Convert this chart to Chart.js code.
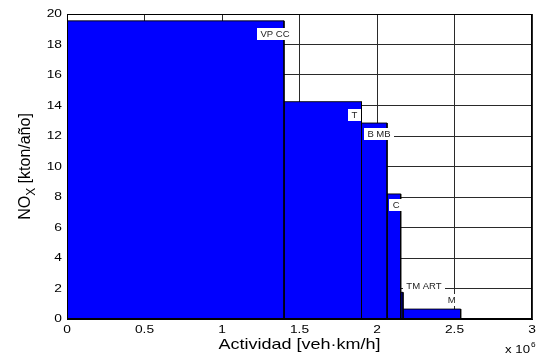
<!DOCTYPE html>
<html>
<head>
<meta charset="utf-8">
<script src="https://cdn.jsdelivr.net/npm/chart.js@4.4.1/dist/chart.umd.min.js"></script>
<style>
  html, body { margin: 0; padding: 0; background: #fff; }
  #wrap { width: 542px; height: 360px; }
</style>
</head>
<body>
<div id="wrap"><canvas id="chart" width="542" height="360"></canvas></div>
<script>
// vehicle categories, activity per category (x10^6 veh·km/h) and NOx (kton/año)
const categories = ['VP CC', 'T', 'B MB', 'C', 'TM ART', 'M'];
const activity = [1.40, 0.50, 0.165, 0.088, 0.015, 0.372];
const emissions = [19.55, 14.25, 12.85, 8.2, 1.75, 0.65];
// where each category tag sits (data units)
const tagX = [1.342, 1.855, 2.013, 2.123, 2.303, 2.482];
const tagY = [18.68, 13.38, 12.13, 7.47, 2.18, 1.26];

const FONT = '"Liberation Sans", Arial, Helvetica, sans-serif';
const STRETCH = 1.25; // the figure is a bit wider than tall

function wideText(ctx, txt, x, y, align, sx){
  ctx.save();
  ctx.translate(x, y);
  ctx.scale(sx, 1);
  ctx.textAlign = align;
  ctx.fillText(txt, 0, 0);
  ctx.restore();
}

// one closed step block per category
let start = 0;
const datasets = categories.map(function(c, i){
  const x0 = start, x1 = start + activity[i];
  start = x1;
  return {
    label: c,
    data: [{x: x0, y: 0}, {x: x0, y: emissions[i]}, {x: x1, y: emissions[i]}, {x: x1, y: 0}],
    fill: 'origin',
    backgroundColor: '#0000ff',
    borderColor: '#000',
    borderWidth: 0.9,
    pointRadius: 0,
    tension: 0
  };
});

const matlabLook = {
  id: 'matlabLook',
  beforeDraw(chart){
    const ctx = chart.ctx;
    ctx.save();
    ctx.fillStyle = '#fff';
    ctx.fillRect(0, 0, chart.width, chart.height);
    ctx.restore();
  },
  afterDatasetsDraw(chart){
    const ctx = chart.ctx;
    const a = chart.chartArea;
    const xs = chart.scales.x, ys = chart.scales.y;
    ctx.save();
    // box
    ctx.strokeStyle = '#000';
    ctx.lineWidth = 1;
    ctx.strokeRect(Math.round(a.left) + 0.5, Math.round(a.top) + 0.5,
      Math.round(a.right - a.left) - 1, Math.round(a.bottom - a.top) - 1);

    // category tags
    ctx.font = '8.5px ' + FONT;
    ctx.textBaseline = 'middle';
    categories.forEach(function(c, i){
      const px = xs.getPixelForValue(tagX[i]);
      const py = ys.getPixelForValue(tagY[i]);
      const w = ctx.measureText(c).width * 1.12 + 7;
      ctx.fillStyle = '#fff';
      ctx.fillRect(Math.round(px - w / 2), Math.round(py - 6), Math.round(w), 12);
      ctx.fillStyle = '#222';
      wideText(ctx, c, px, py + 0.5, 'center', 1.12);
    });

    // tick labels
    ctx.fillStyle = '#000';
    ctx.font = '11px ' + FONT;
    ctx.textBaseline = 'middle';
    ys.ticks.forEach(function(t){
      wideText(ctx, String(t.value), a.left - 5, ys.getPixelForValue(t.value), 'right', STRETCH);
    });
    xs.ticks.forEach(function(t){
      wideText(ctx, String(t.value), xs.getPixelForValue(t.value), a.bottom + 11, 'center', STRETCH);
    });

    // x title and exponent
    ctx.textBaseline = 'alphabetic';
    ctx.font = '15px ' + FONT;
    wideText(ctx, 'Actividad [veh·km/h]', (a.left + a.right) / 2, a.bottom + 30, 'center', 1.2);
    ctx.font = '11px ' + FONT;
    wideText(ctx, 'x 10', a.right - 2, a.bottom + 34, 'right', 1.2);
    ctx.font = '7.5px ' + FONT;
    wideText(ctx, '6', a.right - 1, a.bottom + 28, 'left', 1.1);

    // y title with subscript
    ctx.save();
    ctx.translate(30, (a.top + a.bottom) / 2);
    ctx.rotate(-Math.PI / 2);
    ctx.textAlign = 'left';
    ctx.font = '16px ' + FONT;
    const w1 = ctx.measureText('NO').width;
    const w3 = ctx.measureText(' [kton/año]').width;
    ctx.font = '12px ' + FONT;
    const w2 = ctx.measureText('X').width;
    let x = -(w1 + w2 + w3) / 2;
    ctx.font = '16px ' + FONT;
    ctx.fillText('NO', x, 0);
    ctx.font = '12px ' + FONT;
    ctx.fillText('X', x + w1, 5);
    ctx.font = '16px ' + FONT;
    ctx.fillText(' [kton/año]', x + w1 + w2, 0);
    ctx.restore();

    ctx.restore();
  }
};

new Chart(document.getElementById('chart').getContext('2d'), {
  type: 'line',
  data: { datasets: datasets },
  options: {
    responsive: false,
    animation: false,
    layout: { padding: { top: 14, right: 10, left: 0, bottom: 0 } },
    plugins: { legend: { display: false }, tooltip: { enabled: false } },
    scales: {
      x: {
        type: 'linear', min: 0, max: 3,
        ticks: { display: false, stepSize: 0.5 },
        grid: { color: '#2a2a2a', drawTicks: false },
        border: { color: '#000' },
        afterFit: function(s){ s.height = 41; }
      },
      y: {
        min: 0, max: 20,
        ticks: { display: false, stepSize: 2 },
        grid: { color: '#2a2a2a', drawTicks: false },
        border: { color: '#000' },
        afterFit: function(s){ s.width = 67; }
      }
    }
  },
  plugins: [matlabLook]
});
</script>
</body>
</html>
